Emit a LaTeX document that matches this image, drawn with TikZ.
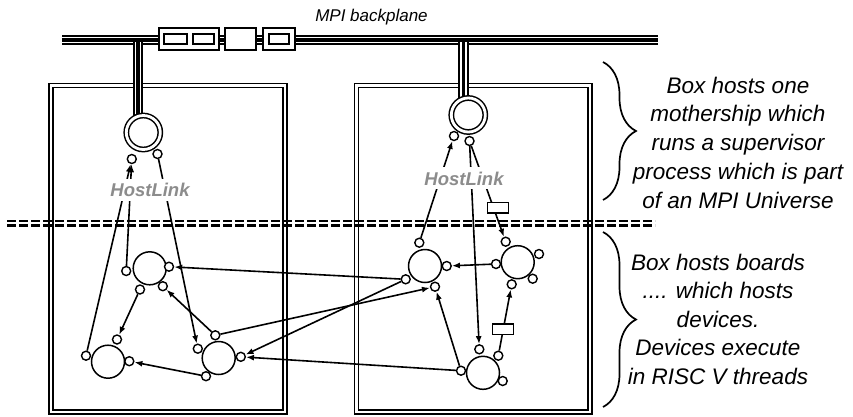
\documentclass[tikz,border=0pt]{standalone}
\usepackage{fontspec}
\setmainfont{Liberation Sans}
\usetikzlibrary{arrows.meta,decorations.pathreplacing}
\definecolor{hlgray}{RGB}{140,140,140}
\begin{document}
\begin{tikzpicture}[x=1pt,y=-1pt,
  boxline/.style={line width=1.7pt, double=white, double distance=2.3pt},
  dashline/.style={line width=2.2pt, dash pattern=on 8.5pt off 3.5pt},
  bus/.style={draw=black, line width=10.5pt,
    postaction={draw=white, line width=6.8pt},
    postaction={draw=black, line width=3.4pt}},
  bpbox/.style={draw, fill=white, line width=1.7pt, inner sep=0pt},
  ms/.style={circle, draw, line width=1.5pt, double=white, double distance=2.8pt, fill=white, minimum size=34pt, inner sep=0pt},
  dev/.style={circle, draw, fill=white, line width=1.5pt, minimum size=33pt, inner sep=0pt},
  port/.style={circle, draw, fill=white, line width=1.4pt, minimum size=9pt, inner sep=0pt},
  conn/.style={line width=1.6pt, -{Latex[length=8pt,width=6pt]}},
  smallrect/.style={draw, fill=white, line width=1.3pt, minimum width=21pt, minimum height=10.5pt, inner sep=0pt},
  hl/.style={font=\fontsize{18.5}{20}\selectfont\bfseries\itshape, text=hlgray, fill=white, anchor=base, inner sep=1pt, text height=17pt, text depth=3pt},
  txt/.style={font=\fontsize{22.5}{28.75}\selectfont\itshape, anchor=base, inner sep=0pt},
  bracestyle/.style={decorate, decoration={brace, amplitude=33pt}, line width=1.7pt}
]
\useasboundingbox (0,0) rectangle (853,416);

% boxes
\draw[boxline] (51,85.5) rectangle (285,412);
\draw[boxline] (356.5,85.5) rectangle (590,412);

% dashed separator
\draw[dashline] (7,221) -- (655,221);
\draw[dashline] (7,225.5) -- (655,225.5);

% backplane
\coordinate (bpW) at (62,40);
\coordinate (bpE) at (658,40);
\draw[bus] (bpW) -- (bpE);
\node[bpbox, minimum width=60pt, minimum height=22.5pt] (pb1) at (189,39) {};
\node[bpbox, minimum width=23.5pt, minimum height=10.5pt] (pb1a) at (175.5,39) {};
\node[bpbox, minimum width=21.5pt, minimum height=10.5pt] (pb1b) at (203.5,39) {};
\node[bpbox, minimum width=31.5pt, minimum height=22.5pt] (pb2) at (240.5,39) {};
\node[bpbox, minimum width=32.5pt, minimum height=22.5pt] (pb3) at (279,39) {};
\node[bpbox, minimum width=20.5pt, minimum height=10.5pt] (pb3a) at (279,39) {};
\node[font=\fontsize{17}{20}\selectfont\itshape, anchor=base, inner sep=0pt] (bplabel) at (371.5,21.7) {MPI backplane};

% motherships
\coordinate (mLc) at (143.3,132.5);
\coordinate (mRc) at (468.3,115);
\coordinate (dL) at (138,42);
\coordinate (dR) at (463.5,42);
\draw[bus] (dL) -- (dL |- mLc);
\draw[bus] (dR) -- (dR |- mRc);
\node[ms] (mL) at (mLc) {};
\node[ms] (mR) at (mRc) {};
\node[port] (mLp1) at (131.8,159) {};
\node[port] (mLp2) at (157.5,154) {};
\node[port] (mRp1) at (454,136) {};
\node[port] (mRp2) at (469.5,141) {};

% devices
\node[dev] (A) at (149.7,268.3) {};
\node[dev] (B) at (108,361.7) {};
\node[dev] (C) at (218.7,358) {};
\node[dev] (D) at (425,266) {};
\node[dev] (E) at (517.7,262.2) {};
\node[dev] (F) at (483,372.8) {};

\node[port] (AL) at (126.2,271) {};
\node[port] (AR) at (169,266.7) {};
\node[port] (ABL) at (140,289.5) {};
\node[port] (ABR) at (162.8,286.2) {};
\node[port] (BL) at (86,355.7) {};
\node[port] (BT) at (117,339.5) {};
\node[port] (BR) at (129.3,361.2) {};
\node[port] (CL) at (197.8,348.7) {};
\node[port] (CT) at (215.3,335.3) {};
\node[port] (CR) at (240.8,356.8) {};
\node[port] (CB) at (206,376.2) {};
\node[port] (DT) at (419.3,242.7) {};
\node[port] (DR) at (446.7,266) {};
\node[port] (DL) at (405.7,279.3) {};
\node[port] (DB) at (435,286.7) {};
\node[port] (ET) at (505.7,241.7) {};
\node[port] (ETR) at (539,254) {};
\node[port] (EL) at (496,264) {};
\node[port] (EBR) at (532.7,278.7) {};
\node[port] (EB) at (511.7,284.3) {};
\node[port] (FT) at (479.3,349.3) {};
\node[port] (FTR) at (498.3,355.7) {};
\node[port] (FL) at (461,370.7) {};
\node[port] (FBR) at (502.7,381) {};

% connectors
\draw[conn] (AL) -- (mLp1);
\draw[conn] (BL) -- (mLp1);
\draw[conn] (mLp2) -- (CL);
\draw[conn] (ABL) -- (BT);
\draw[conn] (CT) -- (ABR);
\draw[conn] (CB) -- (BR);
\draw[conn] (DL) -- (AR);
\draw[conn] (DL) -- (CR);
\draw[conn] (CT) -- (DB);
\draw[conn] (FL) -- (DB);
\draw[conn] (FL) -- (CR);
\draw[conn] (EL) -- (DR);
\draw[conn] (FTR) -- (EB);
\draw[conn] (mRp2) -- (FT);
\draw[conn] (mRp2) -- (ET);
\draw[conn] (DT) -- (mRp1);

% small rectangles on links
\node[smallrect] (R1) at (497.8,207.8) {};
\node[smallrect] (R2) at (503.3,329.2) {};

% HostLink labels
\node[hl] (hlL) at (150,196.7) {HostLink};
\node[hl] (hlR) at (464,185) {HostLink};

% braces
\coordinate (b1t) at (603,62);
\coordinate (b1b) at (603,200);
\coordinate (b2t) at (603,232);
\coordinate (b2b) at (603,407);
\draw[bracestyle] (b1t) -- (b1b);
\draw[bracestyle] (b2t) -- (b2b);

% explanatory texts
\node[txt] (t1a) at (738,93) {Box hosts one};
\node[txt] (t1b) at (738,121.75) {mothership which};
\node[txt] (t1c) at (738,150.5) {runs a supervisor};
\node[txt] (t1d) at (738,179.25) {process which is part};
\node[txt] (t1e) at (738,208) {of an MPI Universe};
\node[txt] (t2a) at (718,270) {Box hosts boards};
\node[txt] (t2b) at (718,298.5) {.... which hosts};
\node[txt] (t2c) at (718,327) {devices.};
\node[txt] (t2d) at (718,355.5) {Devices execute};
\node[txt] (t2e) at (718,384) {in RISC V threads};
\end{tikzpicture}
\end{document}
